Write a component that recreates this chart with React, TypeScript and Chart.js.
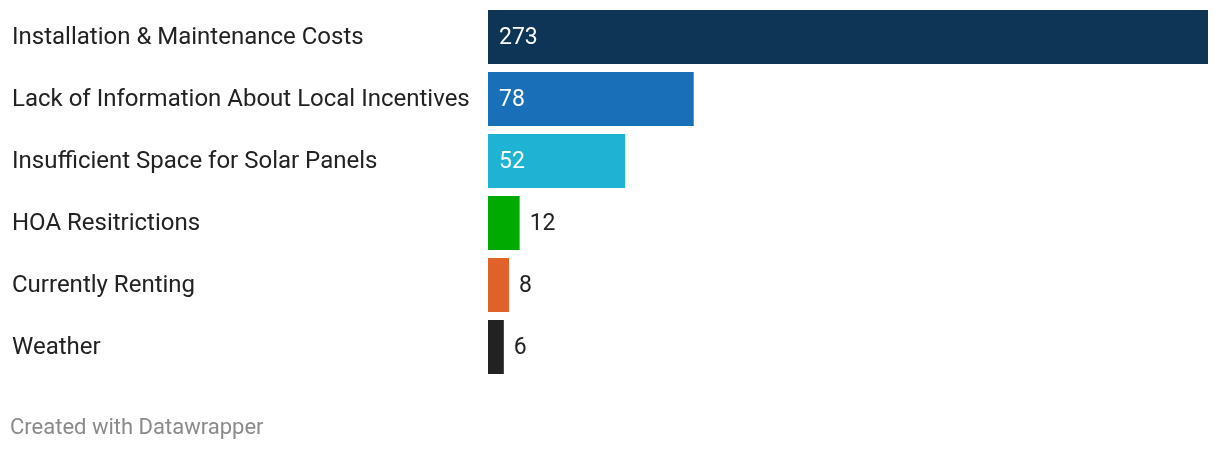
import React, { useEffect, useRef } from "react";
import { Chart, registerables } from "chart.js";

Chart.register(...registerables);

const categories = [
  "Installation & Maintenance Costs",
  "Lack of Information About Local Incentives",
  "Insufficient Space for Solar Panels",
  "HOA Resitrictions",
  "Currently Renting",
  "Weather",
];
const values = [273, 78, 52, 12, 8, 6];
const colors = ["#0e3556", "#1a70b8", "#1fb3d3", "#00aa00", "#e0622a", "#222222"];
const insideLabel = [true, true, true, false, false, false];
const footerText = "Created with Datawrapper";

const FONT = "Roboto, 'Noto Sans', sans-serif";

const labelsPlugin = {
  id: "labelsPlugin",
  afterDatasetsDraw(chart: any) {
    const ctx = chart.ctx;
    const meta = chart.getDatasetMeta(0);
    ctx.save();
    ctx.textBaseline = "middle";
    meta.data.forEach((bar: any, i: number) => {
      const y = bar.y + 1;
      ctx.font = `24px ${FONT}`;
      ctx.fillStyle = "#222222";
      ctx.textAlign = "left";
      ctx.fillText(categories[i], 12, y);
      const txt = String(values[i]);
      ctx.font = `23px ${FONT}`;
      if (insideLabel[i]) {
        ctx.fillStyle = "#ffffff";
        ctx.fillText(txt, bar.base + 11, y);
      } else {
        ctx.fillStyle = "#222222";
        ctx.fillText(txt, bar.x + 10, y);
      }
    });
    ctx.font = `22px ${FONT}`;
    ctx.fillStyle = "#8a8a8a";
    ctx.fillText(footerText, 10, 428);
    ctx.restore();
  },
};

export default function App() {
  const ref = useRef<HTMLCanvasElement>(null);
  useEffect(() => {
    if (!ref.current) return;
    const chart = new Chart(ref.current, {
      type: "bar",
      data: {
        labels: categories,
        datasets: [
          {
            data: values,
            backgroundColor: colors,
            borderWidth: 0,
            categoryPercentage: 1,
            barPercentage: 54 / 62,
          },
        ],
      },
      options: {
        indexAxis: "y",
        animation: false,
        responsive: false,
        maintainAspectRatio: false,
        layout: { padding: { left: 488, right: 12, top: 6, bottom: 72 } },
        scales: {
          x: { display: false, min: 0, max: 273 },
          y: { display: false },
        },
        plugins: {
          legend: { display: false },
          tooltip: { enabled: false },
        },
      },
      plugins: [labelsPlugin],
    });
    return () => chart.destroy();
  }, []);
  return (
    <div style={{ position: "absolute", left: 0, top: 0, width: 1220, height: 450, background: "#fff" }}>
      <canvas ref={ref} width={1220} height={450} style={{ display: "block" }} />
    </div>
  );
}
